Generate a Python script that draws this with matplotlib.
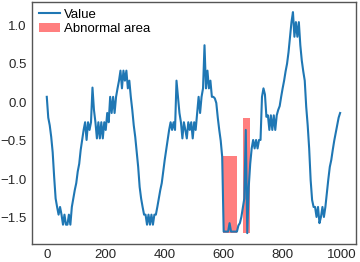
import numpy as np
import matplotlib
matplotlib.use("Agg")
from matplotlib import pyplot as plt
from matplotlib.patches import Rectangle

# readings every 5 steps, 0..995
x = list(range(0, 1000, 5))
value = [
    0.07, -0.20, -0.30, -0.45, -0.65, -0.97, -1.25, -1.36, -1.46, -1.36,
    -1.46, -1.59, -1.46, -1.59, -1.59, -1.46, -1.59, -1.36, -1.25, -1.14,
    -1.05, -0.90, -0.80, -0.62, -0.49, -0.36, -0.26, -0.49, -0.26, -0.36,
    -0.26, 0.19, -0.10, -0.26, -0.47, -0.26, -0.47, -0.26, -0.47, -0.26,
    -0.36, -0.14, -0.26, 0.07, -0.14, 0.07, -0.14, 0.07, 0.18, 0.28,
    0.41, 0.18, 0.41, 0.28, 0.41, 0.18, 0.28, 0.07, -0.10, -0.30,
    -0.45, -0.65, -0.84, -1.10, -1.25, -1.36, -1.46, -1.46, -1.59, -1.46,
    -1.59, -1.46, -1.59, -1.46, -1.46, -1.36, -1.25, -1.14, -1.05, -0.90,
    -0.75, -0.62, -0.49, -0.36, -0.26, -0.36, -0.26, -0.36, 0.28, 0.07,
    -0.14, -0.26, -0.47, -0.26, -0.36, -0.47, -0.26, -0.36, -0.26, -0.47,
    -0.26, -0.36, -0.14, 0.07, -0.14, 0.07, 0.18, 0.74, 0.18, 0.41,
    0.18, 0.28, 0.07, 0.07, 0.05, -0.01, -0.20, -0.36, -0.50, -0.71,
    -1.68, -1.68, -1.68, -1.68, -1.57, -1.68, -1.68, -1.68, -1.68, -1.68,
    -1.60, -1.57, -1.49, -1.37, -1.25, -0.36, -1.70, -1.10, -0.80, -0.60,
    -0.49, -0.60, -0.49, -0.60, -0.49, -0.49, 0.07, 0.18, 0.10, -0.19,
    -0.17, -0.36, -0.17, -0.36, -0.17, -0.36, -0.17, -0.10, -0.05, 0.07,
    0.18, 0.28, 0.40, 0.50, 0.65, 0.84, 1.04, 1.17, 0.85, 1.04,
    0.85, 1.04, 0.74, 0.54, 0.40, 0.28, -0.06, -0.30, -0.60, -1.01,
    -1.27, -1.36, -1.36, -1.49, -1.36, -1.57, -1.49, -1.36, -1.49, -1.36,
    -1.18, -1.00, -0.84, -0.75, -0.62, -0.50, -0.40, -0.30, -0.20, -0.14,
]

# abnormal areas: (x start, x end, y low, y high)
abnormal = [
    (599, 646, -1.70, -0.70),
    (667, 690, -1.70, -0.20),
]

plt.rcParams['font.family'] = ['Liberation Sans', 'DejaVu Sans']
plt.rcParams['font.size'] = 9.5

fig = plt.figure(figsize=(3.6, 2.62), dpi=100)
ax = fig.add_axes([0.089, 0.069, 0.9, 0.923])

ax.plot(x, value, color='#1f77b4', lw=1.5, label='Value')
for i, (x0, x1, y0, y1) in enumerate(abnormal):
    ax.add_patch(Rectangle((x0, y0), x1 - x0, y1 - y0, color='red', alpha=0.5,
                           lw=0, label='Abnormal area' if i == 0 else None))

ax.set_xlim(-50, 1049)
ax.set_ylim(-1.84, 1.30)
ax.set_xticks([0, 200, 400, 600, 800, 1000])
ax.set_yticks([-1.5, -1.0, -0.5, 0.0, 0.5, 1.0])
ax.tick_params(length=0, pad=4, colors='#262626')
for s in ax.spines.values():
    s.set_color('#555555')
    s.set_linewidth(1.0)

ax.legend(loc='upper left', frameon=False, handlelength=1.6, borderpad=0.2,
          labelspacing=0.15, handletextpad=0.35, borderaxespad=0.3)

fig.savefig('out.png', dpi=100)
